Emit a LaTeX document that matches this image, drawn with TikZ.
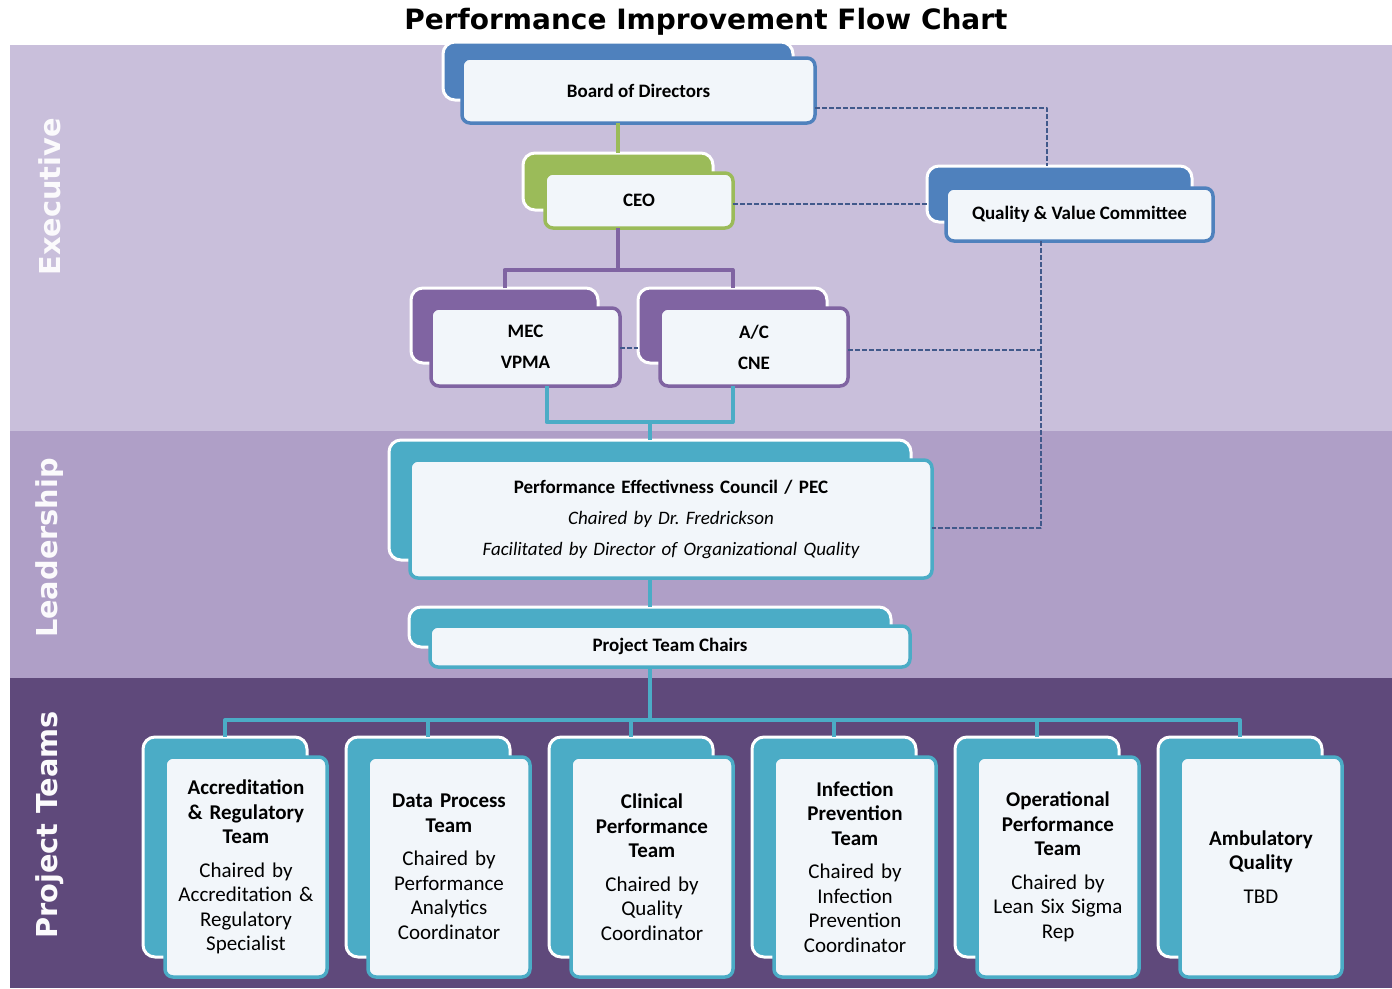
\documentclass[tikz,border=0pt]{standalone}
\usepackage{fontspec}
\setmainfont{Carlito}
\newfontfamily\headfont{DejaVu Sans}
\frenchspacing

\definecolor{execband}{HTML}{C9BFDB}
\definecolor{leadband}{HTML}{AF9FC7}
\definecolor{teamband}{HTML}{5F497B}
\definecolor{boardblue}{HTML}{4F81BD}
\definecolor{ceogreen}{HTML}{9BBB59}
\definecolor{mecpurple}{HTML}{8064A2}
\definecolor{pecteal}{HTML}{4BACC6}
\definecolor{frontfill}{HTML}{F2F6FA}
\definecolor{dashblue}{HTML}{41598B}

\tikzset{every picture/.style={line width=0.75pt}}
\tikzset{
  backbox/.style={draw=white, line width=3pt, rounded corners=12pt, fill=#1, inner sep=0pt, outer sep=0pt},
  frontbox/.style={draw=#1, line width=3.5pt, rounded corners=8pt, fill=frontfill, text=black, align=center, inner sep=2pt, outer sep=0pt},
  link/.style={draw=#1, line width=4pt},
  dashlink/.style={draw=dashblue, line width=1.4pt, dash pattern=on 5pt off 2pt},
  tier/.style={text=white!92!execband, rotate=90, font=\headfont\fontsize{28.8}{29}\selectfont\bfseries},
  toptext/.style={font=\fontsize{19}{31}\selectfont\bfseries},
  teamtext/.style={font=\fontsize{21}{24.5}\selectfont, text width=156pt},
}

\begin{document}
\begin{tikzpicture}[x=1pt, y=-1pt, line join=round]
\useasboundingbox (0,0) rectangle (1392,988);

% the three tiers
\fill[execband] (10,45) rectangle (1392,431);
\fill[leadband] (10,431) rectangle (1392,678);
\fill[teamband] (10,678) rectangle (1392,988);
\node[tier] (exec) at (50,197) {Executive};
\node[tier] (lead) at (50,548) {Leadership};
\node[tier] (proj) at (50,825) {Project Teams};

\node[font=\headfont\fontsize{28}{28}\selectfont\bfseries] (title) at (706,22) {Performance Improvement Flow Chart};

% executive boxes
\node[backbox=boardblue, minimum width=350pt, minimum height=58pt] (bodB) at (618,71) {};
\node[frontbox=boardblue, toptext, minimum width=353pt, minimum height=65pt] (bod) at (638.5,90.5) {Board of Directors};
\node[backbox=ceogreen, minimum width=190pt, minimum height=57pt] (ceoB) at (618,181.5) {};
\node[frontbox=ceogreen, toptext, minimum width=188pt, minimum height=55pt] (ceo) at (639,200.5) {CEO};
\node[backbox=boardblue, minimum width=265pt, minimum height=56pt] (qvcB) at (1059.5,194) {};
\node[frontbox=boardblue, toptext, minimum width=267pt, minimum height=53pt] (qvc) at (1079.5,214.5) {Quality \& Value Committee};
\node[backbox=mecpurple, minimum width=187pt, minimum height=75pt] (mecB) at (504.5,325.5) {};
\node[frontbox=mecpurple, toptext, minimum width=189pt, minimum height=78pt] (mec) at (525.5,347) {MEC\\VPMA};
\node[backbox=mecpurple, minimum width=189pt, minimum height=75pt] (acB) at (732.5,325.5) {};
\node[frontbox=mecpurple, toptext, minimum width=188pt, minimum height=78pt] (ac) at (754,347) {A/C\\CNE};

% leadership boxes
\node[backbox=pecteal, minimum width=522pt, minimum height=120pt] (pecB) at (650,500) {};
\node[frontbox=pecteal, toptext, text width=500pt, minimum width=522pt, minimum height=118pt] (pec) at (671,519)
  {Performance Effectivness Council / PEC\\\mdseries\itshape Chaired by Dr.\ Fredrickson\\Facilitated by Director of Organizational Quality};
\node[backbox=pecteal, minimum width=482pt, minimum height=40pt] (ptcB) at (650,627) {};
\node[frontbox=pecteal, toptext, minimum width=480pt, minimum height=41pt] (ptc) at (670,646.5) {Project Team Chairs};

% project teams
\foreach \i/\txt in {
  0/{\bfseries Accreditation\\\& Regulatory\\Team\\[9pt]\mdseries Chaired by\\Accreditation \&\\Regulatory\\Specialist},
  1/{\bfseries Data Process\\Team\\[9pt]\mdseries Chaired by\\Performance\\Analytics\\Coordinator},
  2/{\bfseries Clinical\\Performance\\Team\\[9pt]\mdseries Chaired by\\Quality\\Coordinator},
  3/{\bfseries Infection\\Prevention\\Team\\[9pt]\mdseries Chaired by\\Infection\\Prevention\\Coordinator},
  4/{\bfseries Operational\\Performance\\Team\\[9pt]\mdseries Chaired by\\Lean Six Sigma\\Rep},
  5/{\bfseries Ambulatory\\Quality\\[9pt]\mdseries TBD}}
{
  \node[backbox=pecteal, minimum width=164pt, minimum height=220pt] (tb\i) at (225+203*\i,847) {};
  \node[frontbox=pecteal, teamtext, minimum width=162pt, minimum height=220pt] (t\i) at (246+203*\i,867) {\txt};
}

% solid links
\draw[link=ceogreen] (bod.south -| bodB.south) -- (ceoB.north);
\coordinate (j1) at (618,270);
\draw[link=mecpurple] (ceo.south -| ceoB.south) -- (j1);
\draw[link=mecpurple] (mecB.north) |- (j1) -| (acB.north);
\coordinate (j2) at (650,422);
\draw[link=pecteal] ([xshift=21pt]mec.south) |- (j2) -| (ac.south -| acB.south);
\draw[link=pecteal] (j2) -- (pecB.north);
\draw[link=pecteal] (pec.south -| pecB.south) -- (ptcB.north);
\coordinate (j3) at (650,720);
\draw[link=pecteal] (ptc.south -| ptcB.south) -- (j3);
\draw[link=pecteal] (tb0.north) |- (j3) -| (tb5.north);
\foreach \i in {1,...,4}
  \draw[link=pecteal] (tb\i.north) -- (tb\i.north |- j3);

% dashed links
\coordinate (qd) at (1041,350);
\draw[dashlink] (bod.east |- 0,108) -| (qvcB.north -| 1047,0);
\draw[dashlink] (ceo.east |- 0,204) -- (qvcB.west |- 0,204);
\draw[dashlink] (qvc.south -| qd) |- (pec.east |- 0,528);
\draw[dashlink] (ac.east |- qd) -- (qd);
\draw[dashlink] (mec.east |- 0,348) -- (acB.west |- 0,348);
\end{tikzpicture}
\end{document}
